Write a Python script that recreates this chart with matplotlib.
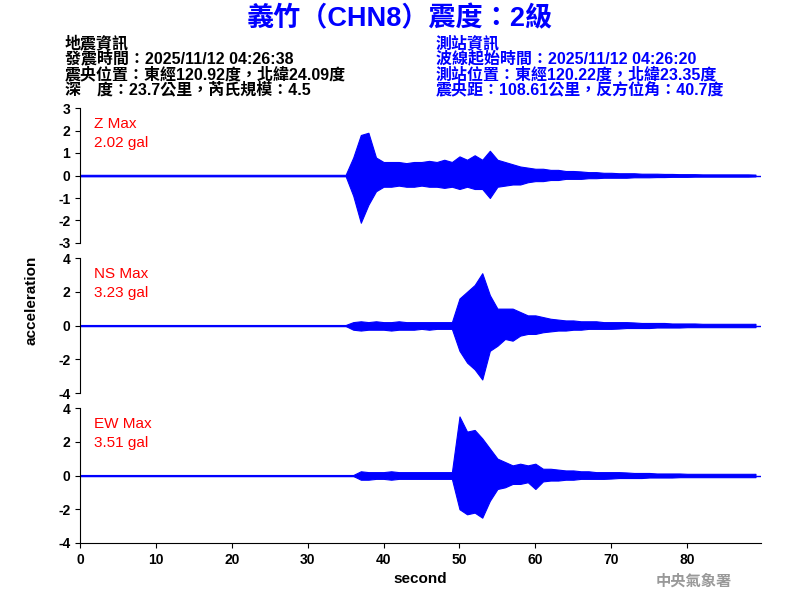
import matplotlib
matplotlib.use("Agg")
import matplotlib.pyplot as plt
import numpy as np

plt.rcParams["font.family"] = ["Liberation Sans", "Noto Sans CJK TC", "DejaVu Sans"]

# per-second amplitude envelopes (gal), t = 0..89 s
seconds = list(range(90))

z_upper = ([0.03] * 36 + [0.8, 1.8, 1.9, 0.8, 0.6, 0.6, 0.6, 0.55, 0.6, 0.6,
            0.65, 0.6, 0.7, 0.6, 0.85, 0.7, 0.9, 0.7, 1.1, 0.7, 0.6, 0.5, 0.4, 0.35,
            0.3, 0.3, 0.25, 0.25, 0.2, 0.2, 0.18, 0.15, 0.15, 0.12, 0.12, 0.1, 0.1,
            0.1, 0.08, 0.08, 0.08, 0.07, 0.07, 0.06, 0.06, 0.06, 0.05, 0.05, 0.05,
            0.05, 0.05, 0.05, 0.05, 0.04])
z_lower = ([-0.03] * 36 + [-0.9, -2.1, -1.3, -0.7, -0.5, -0.5, -0.45, -0.5, -0.5,
            -0.45, -0.5, -0.5, -0.55, -0.5, -0.6, -0.5, -0.6, -0.6, -1.0, -0.5, -0.45,
            -0.4, -0.4, -0.3, -0.25, -0.25, -0.2, -0.2, -0.15, -0.15, -0.15, -0.12,
            -0.12, -0.1, -0.1, -0.1, -0.1, -0.08, -0.08, -0.08, -0.07, -0.07, -0.06,
            -0.06, -0.06, -0.05, -0.05, -0.05, -0.05, -0.05, -0.05, -0.05, -0.05, -0.04])

ns_upper = ([0.03] * 36 + [0.2, 0.25, 0.2, 0.25, 0.2, 0.2, 0.25, 0.2, 0.2, 0.2,
             0.2, 0.2, 0.2, 0.2, 1.6, 2.0, 2.4, 3.1, 1.8, 1.0, 1.0, 1.0, 0.8, 0.6,
             0.6, 0.5, 0.4, 0.35, 0.3, 0.3, 0.25, 0.25, 0.25, 0.2, 0.2, 0.2, 0.2,
             0.18, 0.15, 0.15, 0.15, 0.15, 0.12, 0.12, 0.12, 0.12, 0.1, 0.1, 0.1,
             0.1, 0.1, 0.1, 0.1, 0.1])
ns_lower = ([-0.03] * 36 + [-0.25, -0.3, -0.25, -0.25, -0.25, -0.3, -0.25, -0.25,
             -0.25, -0.2, -0.25, -0.2, -0.2, -0.2, -1.5, -2.2, -2.6, -3.2, -1.5, -1.2,
             -0.8, -0.9, -0.6, -0.5, -0.5, -0.4, -0.35, -0.3, -0.3, -0.25, -0.25,
             -0.2, -0.2, -0.2, -0.2, -0.18, -0.15, -0.15, -0.15, -0.15, -0.12, -0.12,
             -0.12, -0.12, -0.1, -0.1, -0.1, -0.1, -0.1, -0.1, -0.1, -0.1, -0.1, -0.1])

ew_upper = ([0.03] * 37 + [0.25, 0.2, 0.2, 0.2, 0.25, 0.2, 0.2, 0.2, 0.2, 0.2,
             0.2, 0.2, 0.2, 3.5, 2.6, 2.7, 2.2, 1.6, 1.0, 0.8, 0.6, 0.7, 0.6, 0.7,
             0.4, 0.4, 0.35, 0.3, 0.3, 0.25, 0.25, 0.2, 0.2, 0.2, 0.2, 0.18, 0.15,
             0.15, 0.15, 0.12, 0.12, 0.12, 0.12, 0.1, 0.1, 0.1, 0.1, 0.1, 0.1, 0.1,
             0.1, 0.1, 0.1])
ew_lower = ([-0.03] * 37 + [-0.25, -0.25, -0.2, -0.2, -0.25, -0.2, -0.2, -0.2,
             -0.2, -0.2, -0.2, -0.2, -0.2, -2.0, -2.3, -2.2, -2.5, -1.5, -0.8, -0.7,
             -0.5, -0.5, -0.4, -0.8, -0.35, -0.3, -0.3, -0.25, -0.25, -0.2, -0.2,
             -0.2, -0.2, -0.18, -0.15, -0.15, -0.15, -0.15, -0.12, -0.12, -0.12,
             -0.12, -0.1, -0.1, -0.1, -0.1, -0.1, -0.1, -0.1, -0.1, -0.1, -0.1, -0.1])

channels = [
    ("Z Max", "2.02 gal", z_upper, z_lower, 3, [-3, -2, -1, 0, 1, 2, 3]),
    ("NS Max", "3.23 gal", ns_upper, ns_lower, 4, [-4, -2, 0, 2, 4]),
    ("EW Max", "3.51 gal", ew_upper, ew_lower, 4, [-4, -2, 0, 2, 4]),
]

fig = plt.figure(figsize=(8, 6), dpi=100)
bottoms = [0.595, 0.345, 0.095]

for (name, peak, up, lo, lim, ticks), b in zip(channels, bottoms):
    ax = fig.add_axes([0.1, b, 0.851, 0.225])
    ax.fill_between(seconds, lo, up, color="blue", linewidth=0.8, edgecolor="blue")
    ax.axhline(0, color="blue", linewidth=1)
    ax.set_xlim(0, 89.7)
    ax.set_ylim(-lim, lim)
    ax.set_yticks(ticks)
    ax.set_yticklabels([str(t) for t in ticks], fontsize=10, fontweight="bold")
    for s in ("top", "right"):
        ax.spines[s].set_visible(False)
    ax.text(0.02, 0.93, f"{name}\n{peak}", transform=ax.transAxes, color="red",
            fontsize=11, va="top", ha="left", linespacing=1.4)
    if b > 0.1:
        ax.spines["bottom"].set_visible(False)
        ax.set_xticks([])
    else:
        ax.set_xticks(range(0, 90, 10))
        ax.set_xticklabels([str(t) for t in range(0, 90, 10)], fontsize=10, fontweight="bold")
        ax.set_xlabel("second", fontsize=11, fontweight="bold", labelpad=4)

fig.text(0.04, 0.5, "acceleration", rotation=90, fontsize=11, fontweight="bold",
         ha="center", va="center")

fig.text(0.5, 0.968, "義竹（CHN8）震度：2級", color="blue", fontsize=19.5,
         fontweight="bold", ha="center", va="center")

left_info = ["地震資訊", "發震時間：2025/11/12 04:26:38",
             "震央位置：東經120.92度，北緯24.09度", "深　度：23.7公里，芮氏規模：4.5"]
right_info = ["測站資訊", "波線起始時間：2025/11/12 04:26:20",
              "測站位置：東經120.22度，北緯23.35度", "震央距：108.61公里，反方位角：40.7度"]
for i, (l, r) in enumerate(zip(left_info, right_info)):
    y = 0.928 - i * 0.026
    fig.text(0.081, y, l, fontsize=11.5, color="black", va="center", fontweight="bold")
    fig.text(0.545, y, r, fontsize=11.5, color="blue", va="center", fontweight="bold")

fig.text(0.82, 0.032, "中央氣象署", fontsize=11, color="#999999", fontweight="bold",
         ha="left", va="center", family=["Noto Sans CJK TC"])

fig.savefig("out.png", dpi=100, facecolor="white")
